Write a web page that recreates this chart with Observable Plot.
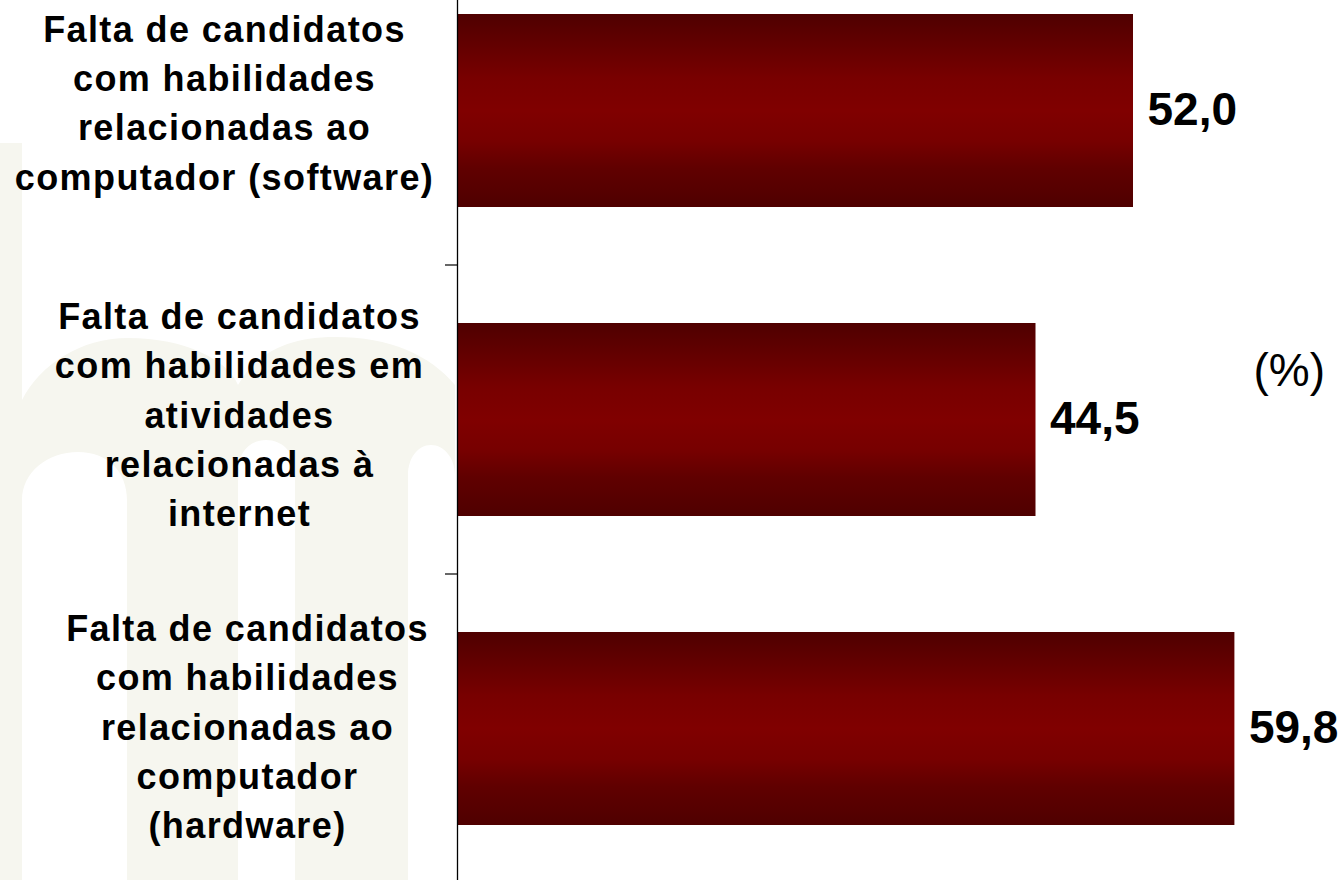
<!DOCTYPE html>
<html>
<head>
<meta charset="utf-8">
<script src="https://cdn.jsdelivr.net/npm/d3@7"></script>
<script src="https://cdn.jsdelivr.net/npm/@observablehq/plot@0.6"></script>
<style>
  html, body { margin: 0; padding: 0; background: #ffffff; overflow: hidden; }
  #chart { width: 1342px; height: 880px; }
</style>
</head>
<body>
<div id="chart"></div>
<script>
// ---- Data ----
const categories = [
  "Falta de candidatos\ncom habilidades\nrelacionadas ao\ncomputador (software)",
  "Falta de candidatos\ncom habilidades em\natividades\nrelacionadas à\ninternet",
  "Falta de candidatos\ncom habilidades\nrelacionadas ao\ncomputador\n(hardware)"
];
const values = [52.0, 44.5, 59.8];
const unitLabel = "(%)";
const xDomain = [0, 60];

// ---- Build table ----
const rows = categories.map((c, i) => ({category: c, value: values[i]}));
const fmt = v => d3.format(".1f")(v).replace(".", ",");

// ---- Layout (pixels) ----
const W = 1342, H = 880;
const labelCenterDx = [-233, -218, -210];   // label block centers relative to axis
const labelDy = [-11, -8, -5];

// Gradient + watermark (decoration behind the chart)
function background() {
  const g = d3.create("svg:g");
  const defs = g.append("defs");
  const grad = defs.append("linearGradient")
    .attr("id", "barGrad").attr("x1", 0).attr("y1", 0).attr("x2", 0).attr("y2", 1);
  [[0, "#4f0000"], [0.17, "#640000"], [0.33, "#780000"], [0.5, "#800000"],
   [0.66, "#770000"], [0.8, "#600000"], [1, "#4f0000"]].forEach(([o, c]) =>
    grad.append("stop").attr("offset", o).attr("stop-color", c));
  const outer = "M0,880 V143 H22 V400 C40,365 80,338 128,338 C185,338 228,360 238,385 " +
                "C255,355 285,337 335,337 C390,337 430,355 455,385 V880 Z";
  const holes = "M22,880 V500 C22,472 48,452 78,452 C108,452 127,472 127,500 V880 Z " +
                "M238,880 V472 C238,452 250,440 266,440 C282,440 295,452 295,472 V880 Z " +
                "M408,880 V475 C408,458 418,445 431,445 C444,445 455,458 455,475 V880 Z";
  g.append("path").attr("d", outer + " " + holes)
    .attr("fill", "#f6f6ef").attr("fill-rule", "evenodd");
  return g.node();
}

// Separator ticks between categories (left of the axis)
function categoryTicks(index, scales) {
  const {x, y} = scales;
  const g = d3.create("svg:g").attr("stroke", "#000").attr("stroke-width", 1.2);
  const x0 = x(0);
  for (const c of categories) {
    const yy = y(c);
    g.append("line").attr("x1", x0 - 12).attr("x2", x0).attr("y1", yy).attr("y2", yy);
  }
  return g.node();
}

const labelMarks = categories.map((c, i) => Plot.text([c], {
  y: d => d,
  text: d => d,
  frameAnchor: "left",
  dx: labelCenterDx[i],
  dy: labelDy[i],
  textAnchor: "middle",
  lineHeight: 1.37,
  fontSize: 36,
  fontWeight: "bold",
  fill: "#000"
}));

const chart = Plot.plot({
  width: W,
  height: H,
  marginLeft: 457,
  marginRight: 105,
  marginTop: 0,
  marginBottom: 0,
  style: {fontFamily: "'Liberation Sans', Arial, sans-serif", background: "transparent", overflow: "visible"},
  x: {domain: xDomain, axis: null},
  y: {domain: categories, range: [-44.5, 883.5], padding: 0, axis: null},
  marks: [
    background,
    Plot.barX(rows, {x: "value", y: "category", fill: "url(#barGrad)", insetTop: 58, insetBottom: 58}),
    Plot.ruleX([0], {stroke: "#000", strokeWidth: 1.3}),
    categoryTicks,
    ...labelMarks,
    Plot.text(rows, {
      x: "value", y: "category", text: d => fmt(d.value),
      textAnchor: "start", dx: 14, dy: -1,
      fontSize: 46, fontWeight: "bold", fill: "#000"
    }),
    Plot.text([unitLabel], {
      text: d => d, frameAnchor: "top-right", textAnchor: "start",
      dx: 16, dy: 353, fontSize: 46, fill: "#000"
    })
  ]
});

// letter spacing for the category labels (first text groups)
const textGroups = d3.select(chart).selectAll("g[aria-label='text']").nodes();
textGroups.slice(0, categories.length).forEach(g => g.setAttribute("letter-spacing", "1.4"));

document.getElementById("chart").appendChild(chart);
</script>
</body>
</html>
